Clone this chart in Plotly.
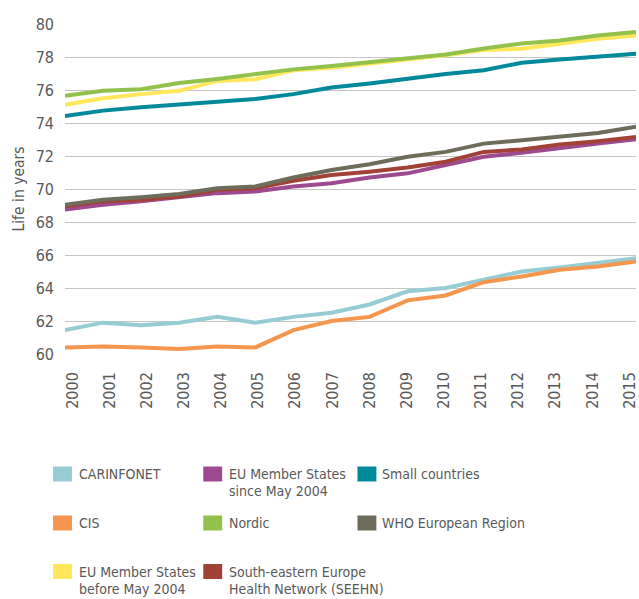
import plotly.graph_objects as go

years = list(range(2000, 2016))

carinfonet = [61.45, 61.9, 61.75, 61.9, 62.25, 61.9, 62.25, 62.5, 63.0, 63.8, 64.0, 64.5, 65.0, 65.25, 65.55, 65.8]
cis = [60.4, 60.45, 60.4, 60.3, 60.45, 60.4, 61.45, 62.0, 62.25, 63.25, 63.55, 64.35, 64.7, 65.1, 65.3, 65.6]
eu_before = [75.1, 75.5, 75.75, 75.95, 76.55, 76.65, 77.2, 77.35, 77.6, 77.85, 78.1, 78.42, 78.5, 78.8, 79.1, 79.3]
eu_since = [68.75, 69.05, 69.25, 69.5, 69.75, 69.85, 70.15, 70.35, 70.7, 70.95, 71.45, 71.95, 72.2, 72.45, 72.75, 73.02]
nordic = [75.65, 75.95, 76.05, 76.42, 76.67, 76.97, 77.25, 77.45, 77.7, 77.92, 78.15, 78.52, 78.82, 79.0, 79.3, 79.52]
seehn = [68.95, 69.25, 69.35, 69.55, 69.95, 70.05, 70.5, 70.85, 71.05, 71.3, 71.65, 72.25, 72.4, 72.7, 72.9, 73.15]
small = [74.42, 74.75, 74.95, 75.13, 75.25, 75.45, 75.75, 76.15, 76.4, 76.7, 76.97, 77.2, 77.65, 77.85, 78.0, 78.2]
who = [69.05, 69.35, 69.5, 69.7, 70.05, 70.15, 70.7, 71.15, 71.5, 71.95, 72.25, 72.75, 72.95, 73.2, 73.4, 73.78]

series = [
    ("CARINFONET", carinfonet, "#97CCD4"),
    ("CIS", cis, "#F5964F"),
    ("EU Member States<br>before May 2004", eu_before, "#FFE85C"),
    ("EU Member States<br>since May 2004", eu_since, "#9D4A90"),
    ("Nordic", nordic, "#93C24C"),
    ("South-eastern Europe<br>Health Network (SEEHN)", seehn, "#A24236"),
    ("Small countries", small, "#00899B"),
    ("WHO European Region", who, "#6E6C5A"),
]

# legend grid: (row, col) for each series, same order as above
legend_pos = [(0, 0), (1, 0), (2, 0), (0, 1), (1, 1), (2, 1), (0, 2), (1, 2)]

font_fam = "DejaVu Sans Condensed, Liberation Sans Narrow, sans-serif"
text_col = "#595959"

W, H = 639, 599
L, R, T, B = 65, 639, 24, 354  # plot area in pixels


def px_x(p):
    return (p - L) / (R - L)


def px_y(p):
    return (B - p) / (B - T)


fig = go.Figure()
for name, vals, col in series:
    fig.add_trace(go.Scatter(
        x=years, y=vals, mode="lines", name=name.replace("<br>", " "),
        line=dict(color=col, width=4),
        showlegend=False, hoverinfo="x+y+name",
    ))

# empty trace so the label axis gets drawn
fig.add_trace(go.Scatter(x=years, y=[None] * len(years), xaxis="x2",
                         showlegend=False, hoverinfo="skip"))

# hand-made legend with square swatches
swatch_x = [53, 204, 359]
text_x = [77, 228, 382]
row_y = [474, 523, 571.5]
line_gap = 17
shapes = []
annotations = []
for (name, vals, col), (r, c) in zip(series, legend_pos):
    cy = row_y[r]
    shapes.append(dict(
        type="rect", xref="paper", yref="paper",
        x0=px_x(swatch_x[c]), x1=px_x(swatch_x[c] + 19),
        y0=px_y(cy - 7.5), y1=px_y(cy + 7.5),
        fillcolor=col, line=dict(width=0),
    ))
    for i, line in enumerate(name.split("<br>")):
        annotations.append(dict(
            text=line, xref="paper", yref="paper",
            x=px_x(text_x[c]), y=px_y(cy + i * line_gap),
            xanchor="left", yanchor="middle", showarrow=False,
            font=dict(family=font_fam, size=14, color=text_col),
        ))

# year labels sit a little off the data points in the original
step = 37.33
lab_lo = 2000 - (72.5 - L) / step
lab_hi = lab_lo + (R - L) / step

fig.update_layout(
    width=W, height=H,
    margin=dict(l=L, r=W - R, t=T, b=H - B, pad=0),
    plot_bgcolor="white", paper_bgcolor="white",
    font=dict(family=font_fam, color=text_col),
    shapes=shapes, annotations=annotations,
    showlegend=False,
    xaxis=dict(range=[2000, 2015], showticklabels=False, showgrid=False,
               zeroline=False, showline=False, ticks=""),
    xaxis2=dict(overlaying="x", side="bottom", range=[lab_lo, lab_hi],
                tickmode="array", tickvals=years,
                ticktext=[str(y) for y in years], tickangle=-90,
                tickfont=dict(size=16, color=text_col), showgrid=False,
                zeroline=False, showline=False, ticks="",
                ticklabelstandoff=14, ticklabeloverflow="allow"),
)
fig.update_yaxes(
    range=[60, 80], dtick=2, tickfont=dict(size=16, color=text_col),
    showgrid=True, gridcolor="#C6C6C6", gridwidth=1, zeroline=False,
    showline=False, ticks="", ticklabelstandoff=10,
    title=dict(text="Life in years", font=dict(size=15.5, color=text_col), standoff=7),
)

# drop the default page margin so the figure fills the window exactly
fig.write_html(
    "out.html",
    config={"displayModeBar": False},
    post_script="document.body.style.margin='0';"
                "document.documentElement.style.overflow='hidden';",
)
